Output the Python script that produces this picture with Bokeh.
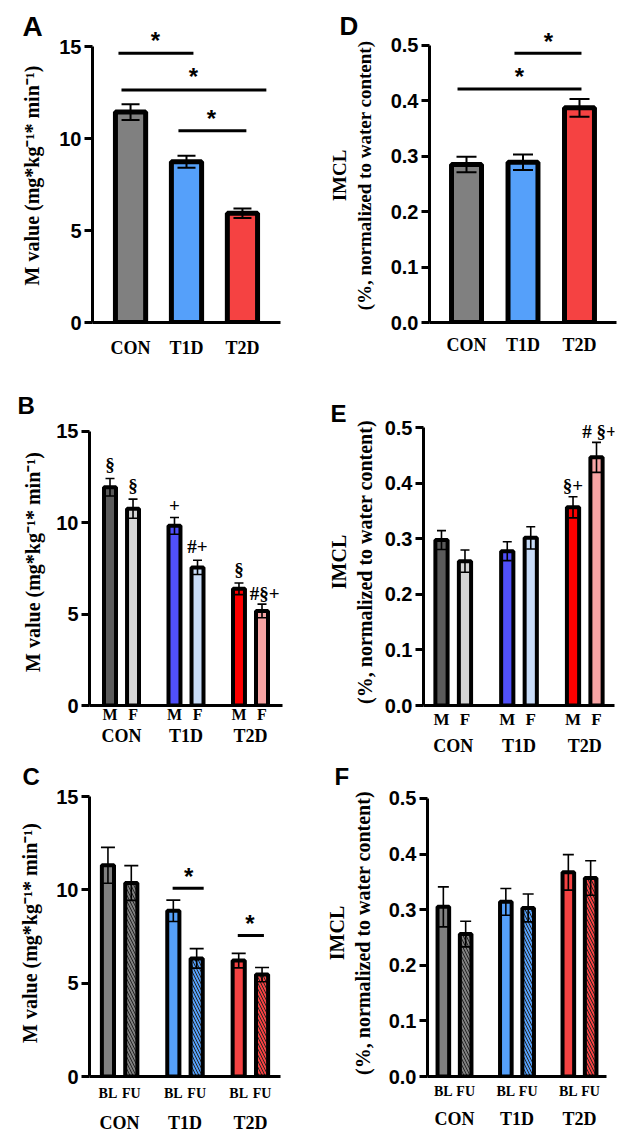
from bokeh.plotting import figure
from bokeh.models import FactorRange, Range1d, FixedTicker, NumeralTickFormatter, Title
from bokeh.layouts import column, row
from bokeh.embed import file_html
from bokeh.resources import INLINE
from bokeh.core.properties import value

# ---------------- data ----------------
groups = ["CON", "T1D", "T2D"]
sexes = ["M", "F"]
visits = ["BL", "FU"]

# Panel A: M value by group
m_value = [11.45, 8.75, 5.95]
m_value_sem = [0.43, 0.33, 0.26]
# Panel D: IMCL by group
imcl = [0.285, 0.289, 0.387]
imcl_sem = [0.014, 0.014, 0.016]
# Panel B: M value by group and sex (M, F)
m_value_sex = [11.93, 10.76, 9.82, 7.55, 6.38, 5.17]
m_value_sex_sem = [0.48, 0.52, 0.46, 0.39, 0.32, 0.37]
b_marks = ["§", "§", "+", "#+", "§", "#§+"]
b_mark_y = [13.18, 12.01, 10.94, 8.67, 7.46, 6.11]
# Panel E: IMCL by group and sex
imcl_sex = [0.298, 0.260, 0.278, 0.302, 0.357, 0.447]
imcl_sex_sem = [0.017, 0.020, 0.017, 0.020, 0.019, 0.027]
e_marks = ["§+", "# §+"]
e_mark_y = [0.397, 0.493]
# Panel C: M value at baseline (BL) and follow-up (FU)
m_value_visit = [11.32, 10.37, 8.88, 6.33, 6.21, 5.46]
m_value_visit_sem = [0.96, 0.93, 0.57, 0.52, 0.39, 0.38]
# Panel F: IMCL at baseline and follow-up
imcl_visit = [0.305, 0.256, 0.314, 0.303, 0.367, 0.357]
imcl_visit_sem = [0.036, 0.023, 0.024, 0.025, 0.032, 0.031]

# significance brackets: (from, to, bracket level, star position, star level)
sig_A = [(("CON", -0.216), ("T1D", 0.124), 14.65, ("CON", 0.445), 15.35),
         (("CON", -0.162), ("T2D", 0.427), 12.65, ("T1D", 0.124), 13.37),
         (("T1D", -0.144), ("T2D", 0.07), 10.43, ("T1D", 0.445), 11.12)]
sig_D = [(("T1D", -0.151), ("T2D", 0.035), 0.4854, ("T1D", 0.451), 0.5068),
         (("CON", -0.159), ("T2D", 0.035), 0.4211, ("T1D", -0.062), 0.4438)]
sig_C = [(("T1D", "BL", -0.03), ("T1D", "FU", 0.30), 10.09, ("T1D", "BL", 0.66), 10.73),
         (("T2D", "BL", -0.04), ("T2D", "FU", 0.08), 7.56, ("T2D", "BL", 0.48), 8.21)]

# ---------------- styles ----------------
group_colors = ["#808080", "#55a0fa", "#f54242"]
sex_colors = ["#5a5a5a", "#d4d4d4", "#5050fa", "#c8dcf8", "#ff0000", "#f8a5a5"]
visit_colors = ["#808080", "#808080", "#55a0fa", "#55a0fa", "#f54242", "#f54242"]
visit_hatch = [" ", "\\", " ", "\\", " ", "\\"]

SANS = "Liberation Sans"
SERIF = "Liberation Serif"
M_LABEL = "M value (mg*kg\u207b\u00b9* min\u207b\u00b9)"
IMCL_LABEL = "(%, normalized to water content)"


def base_fig(x_range, y_end, ticks, w, h, bl, br, bt, bb, fmt=None):
    p = figure(x_range=x_range, y_range=Range1d(0, y_end), width=w, height=h,
               output_backend="svg", toolbar_location=None,
               min_border_left=bl, min_border_right=br,
               min_border_top=bt, min_border_bottom=bb)
    p.grid.visible = False
    p.outline_line_color = None
    p.background_fill_color = "white"
    ya = p.yaxis[0]
    ya.ticker = FixedTicker(ticks=ticks)
    ya.bounds = (0, ticks[-1])
    if fmt:
        ya.formatter = NumeralTickFormatter(format=fmt)
    ya.axis_line_width = 3
    ya.axis_line_color = "black"
    ya.major_tick_line_width = 3
    ya.major_tick_out = 8
    ya.major_tick_in = 0
    ya.minor_tick_line_color = None
    ya.minor_tick_out = 0
    ya.major_label_text_font = SANS
    ya.major_label_text_font_style = "bold"
    ya.major_label_text_font_size = "20px"
    ya.major_label_text_color = "black"
    ya.major_label_standoff = 3
    ya.axis_label_text_font = SERIF
    ya.axis_label_text_font_style = "bold"
    ya.axis_label_text_color = "black"
    xa = p.xaxis[0]
    xa.axis_line_width = 3
    xa.axis_line_color = "black"
    xa.major_tick_line_color = None
    xa.major_tick_out = 0
    xa.major_tick_in = 0
    xa.minor_tick_line_color = None
    xa.minor_tick_out = 0
    xa.axis_label_standoff = 0
    xa.major_label_text_font = SERIF
    xa.major_label_text_font_style = "bold"
    xa.major_label_text_color = "black"
    return p


def errorbars(p, xs, means, sems, cap, lw=1.6):
    lo = [m - s for m, s in zip(means, sems)]
    hi = [m + s for m, s in zip(means, sems)]
    p.segment(x0=xs, y0=lo, x1=xs, y1=hi, line_color="black", line_width=lw)
    p.scatter(x=xs + xs, y=hi + lo, marker="dash", size=cap,
              line_color="black", line_width=lw)


def brackets(p, sig, lw=3):
    p.segment(x0=[s[0] for s in sig], x1=[s[1] for s in sig],
              y0=[s[2] for s in sig], y1=[s[2] for s in sig],
              line_color="black", line_width=lw)
    p.text(x=[s[3] for s in sig], y=[s[4] for s in sig], text=["*"] * len(sig),
           text_font=value(SANS), text_font_style="bold", text_font_size="24px",
           text_align="center", text_baseline="middle", text_color="black")


def letter(p, txt, size, offset, standoff):
    t = p.title
    t.text = txt
    t.text_font = SANS
    t.text_font_style = "bold"
    t.text_font_size = size
    t.text_color = "black"
    t.align = "left"
    t.offset = offset
    t.standoff = standoff


def imcl_title(p, size, standoff):
    p.add_layout(Title(text="IMCL", align="center", text_font=SERIF,
                       text_font_style="bold", text_font_size=size,
                       text_color="black", standoff=standoff), "left")


def grouped_axis(p, sub_size, group_size, standoff):
    xa = p.xaxis[0]
    xa.major_label_text_font_size = sub_size
    xa.major_label_standoff = standoff
    xa.major_label_text_line_height = 1.0
    xa.group_text_font = SERIF
    xa.group_text_font_style = "bold"
    xa.group_text_font_size = group_size
    xa.group_text_color = "black"
    xa.group_text_line_height = 1.0
    xa.separator_line_color = None


def nested(sub):
    return [(g, s) for g in groups for s in sub]


# ---------------- Panel A ----------------
pA = base_fig(FactorRange(factors=groups, range_padding=0.18, range_padding_units="absolute"),
              16, [0, 5, 10, 15], 322, 380, 92, 42, 28, 56)
pA.vbar(x=groups, top=m_value, width=0.54, fill_color=group_colors,
        line_color="black", line_width=5)
errorbars(pA, groups, m_value, m_value_sem, 18, 2)
brackets(pA, sig_A)
pA.yaxis.axis_label = M_LABEL
pA.yaxis.axis_label_text_font_size = "20px"
pA.yaxis.axis_label_standoff = 13
pA.xaxis.major_label_text_font_size = "18px"
pA.xaxis.major_label_standoff = 15
letter(pA, "A", "28px", -70, -26)

# ---------------- Panel D ----------------
pD = base_fig(FactorRange(factors=groups, range_padding=0.155, range_padding_units="absolute"),
              0.53, [0, 0.1, 0.2, 0.3, 0.4, 0.5], 322, 380, 107, 28, 25, 58, fmt="0.0")
pD.vbar(x=groups, top=imcl, width=0.53, fill_color=group_colors,
        line_color="black", line_width=5)
errorbars(pD, groups, imcl, imcl_sem, 20, 2)
brackets(pD, sig_D)
pD.yaxis.axis_label = IMCL_LABEL
pD.yaxis.axis_label_text_font_size = "19px"
pD.yaxis.axis_label_standoff = 13
imcl_title(pD, "19px", 2)
pD.xaxis.major_label_text_font_size = "18px"
pD.xaxis.major_label_standoff = 12
letter(pD, "D", "26px", -90, -25)

# ---------------- Panel B ----------------
fB = nested(sexes)
pB = base_fig(FactorRange(factors=fB, range_padding=0.39, range_padding_units="absolute",
                          group_padding=0.8, factor_padding=0),
              15.69, [0, 5, 10, 15], 322, 380, 89, 40, 38, 49)
pB.vbar(x=fB, top=m_value_sex, width=0.52, fill_color=sex_colors,
        line_color="black", line_width=4)
errorbars(pB, fB, m_value_sex, m_value_sex_sem, 9)
pB.text(x=fB[:5] + [("T2D", "F", 0.12)], y=b_mark_y, text=b_marks,
        text_font=value(SERIF), text_font_style="bold", text_font_size="19px",
        text_align="center", text_baseline="middle", text_color="black")
pB.yaxis.axis_label = M_LABEL
pB.yaxis.axis_label_text_font_size = "20px"
pB.yaxis.axis_label_standoff = 9
grouped_axis(pB, "16px", "18px", 0)
letter(pB, "B", "24px", -72, 0)

# ---------------- Panel E ----------------
pE = base_fig(FactorRange(factors=fB, range_padding=0.266, range_padding_units="absolute",
                          group_padding=0.8, factor_padding=0),
              0.517, [0, 0.1, 0.2, 0.3, 0.4, 0.5], 322, 380, 101, 30, 35, 55, fmt="0.0")
pE.vbar(x=fB, top=imcl_sex, width=0.52, fill_color=sex_colors,
        line_color="black", line_width=4)
errorbars(pE, fB, imcl_sex, imcl_sex_sem, 9)
pE.text(x=[("T2D", "M"), ("T2D", "F", 0.13)], y=e_mark_y, text=e_marks,
        text_font=value(SERIF), text_font_style="bold", text_font_size="19px",
        text_align="center", text_baseline="middle", text_color="black")
pE.yaxis.axis_label = IMCL_LABEL
pE.yaxis.axis_label_text_font_size = "20px"
pE.yaxis.axis_label_standoff = 6
imcl_title(pE, "20px", 2)
grouped_axis(pE, "17px", "18px", 4)
letter(pE, "E", "24px", -93, -16)

# ---------------- Panel C ----------------
fC = nested(visits)
pC = base_fig(FactorRange(factors=fC, range_padding=0.29, range_padding_units="absolute",
                          group_padding=0.8, factor_padding=0),
              15.38, [0, 5, 10, 15], 322, 381, 89, 42, 28, 65)
pC.vbar(x=fC, top=m_value_visit, width=0.52, fill_color=visit_colors,
        line_color="black", line_width=4, hatch_pattern=visit_hatch,
        hatch_color="#222222", hatch_weight=1, hatch_scale=6)
errorbars(pC, fC, m_value_visit, m_value_visit_sem, 14)
brackets(pC, sig_C)
pC.yaxis.axis_label = M_LABEL
pC.yaxis.axis_label_text_font_size = "20px"
pC.yaxis.axis_label_standoff = 12
grouped_axis(pC, "14px", "18px", 9)
letter(pC, "C", "24px", -67, 0)

# ---------------- Panel F ----------------
pF = base_fig(FactorRange(factors=fC, range_padding=0.21, range_padding_units="absolute",
                          group_padding=0.8, factor_padding=0),
              0.516, [0, 0.1, 0.2, 0.3, 0.4, 0.5], 322, 381, 98, 38, 28, 63, fmt="0.0")
pF.vbar(x=fC, top=imcl_visit, width=0.52, fill_color=visit_colors,
        line_color="black", line_width=4, hatch_pattern=visit_hatch,
        hatch_color="#222222", hatch_weight=1, hatch_scale=6)
errorbars(pF, fC, imcl_visit, imcl_visit_sem, 11)
pF.yaxis.axis_label = IMCL_LABEL
pF.yaxis.axis_label_text_font_size = "20px"
pF.yaxis.axis_label_standoff = 12
imcl_title(pF, "20px", 2)
grouped_axis(pF, "14px", "18px", 7)
letter(pF, "F", "24px", -93, 0)

layout = column(row(pA, pD), row(pB, pE), row(pC, pF))
open("out.html", "w").write(file_html(layout, INLINE))
